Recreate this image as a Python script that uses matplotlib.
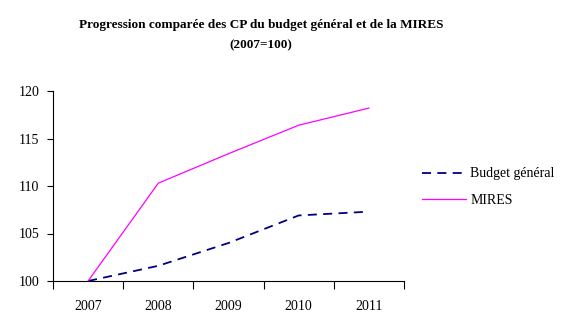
import numpy as np
import matplotlib.pyplot as plt

years = ["2007", "2008", "2009", "2010", "2011"]
budget_general = [100, 101.6, 104.0, 106.9, 107.3]
mires = [100, 110.3, 113.4, 116.4, 118.2]

plt.rcParams['font.family'] = ['Liberation Serif', 'DejaVu Serif']

fig = plt.figure(figsize=(5.79, 3.35), dpi=100)
ax = fig.add_axes([53/579, 1 - 281/335, (404-53)/579, (281-91)/335])

x = np.arange(len(years))
ax.plot(x, budget_general, color='#000080', lw=1.3, dashes=(5, 3.5), label='Budget général')
ax.plot(x, mires, color='#FF00FF', lw=0.9, label='MIRES')

ax.set_xlim(-0.5, len(years) - 0.5)
ax.set_ylim(100, 120)
ax.set_yticks([100, 105, 110, 115, 120])
ax.set_yticklabels(["100", "105", "110", "115", "120"], fontsize=10)

# category boundaries as tick marks, labels centred underneath
ax.set_xticks(np.arange(-0.5, len(years), 1.0))
ax.set_xticklabels([])
ax.set_xticks(x, minor=True)
ax.set_xticklabels(years, minor=True, fontsize=10)
ax.tick_params(axis='x', which='minor', length=0, pad=14)
ax.tick_params(axis='x', which='major', length=6, direction='out', width=0.8)
ax.tick_params(axis='y', length=4, direction='out', width=0.8, pad=6)

for s in ['top', 'right']:
    ax.spines[s].set_visible(False)
for s in ['left', 'bottom']:
    ax.spines[s].set_linewidth(0.8)

fig.text(261/579, 1 - 25/335, "Progression comparée des CP du budget général et de la MIRES",
         ha='center', va='center', fontsize=9.5, fontweight='bold')
fig.text(261/579, 1 - 45/335, "(2007=100)", ha='center', va='center',
         fontsize=9.5, fontweight='bold')

fig.legend(loc='upper left', bbox_to_anchor=(409/579, 1 - 155/335), frameon=False,
           fontsize=10, handlelength=3.2, handletextpad=0.3, labelspacing=0.95)

fig.savefig("out.png", dpi=100)
